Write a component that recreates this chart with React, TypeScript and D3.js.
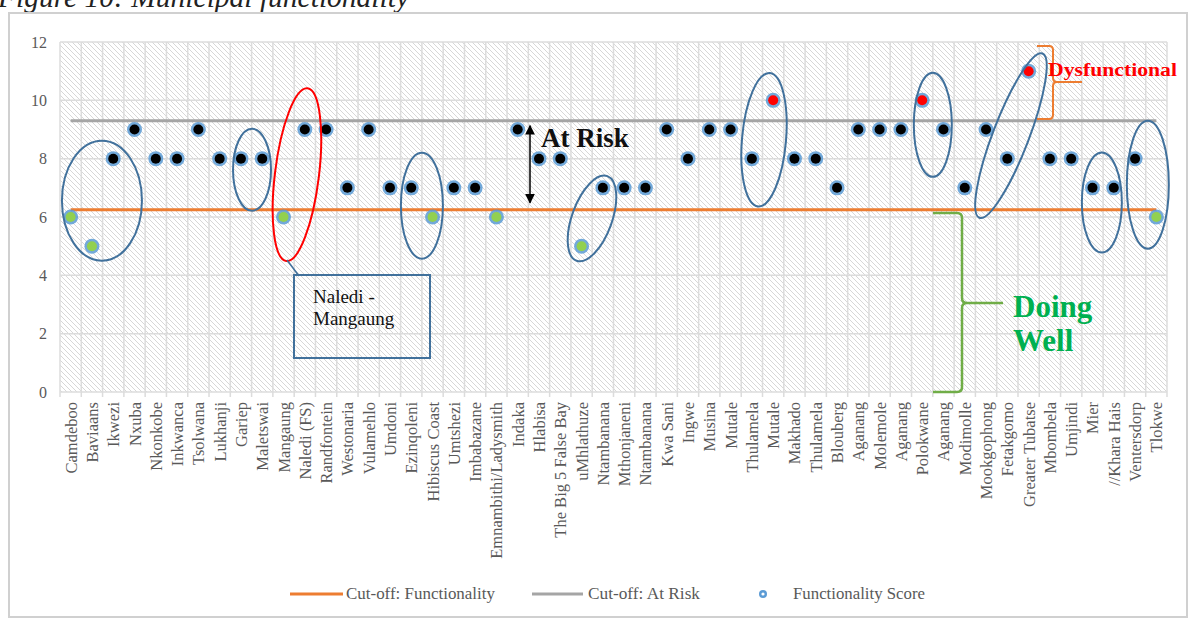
import React from "react";
import * as d3 from "d3";

const categories = [
  "Camdeboo","Baviaans","Ikwezi","Nxuba","Nkonkobe","Inkwanca","Tsolwana","Lukhanji","Gariep","Maletswai",
  "Mangaung","Naledi (FS)","Randfontein","Westonaria","Vulamehlo","Umdoni","Ezinqoleni","Hibiscus Coast","Umtshezi","Imbabazane",
  "Emnambithi/Ladysmith","Indaka","Hlabisa","The Big 5 False Bay","uMhlathuze","Ntambanana","Mthonjaneni","Ntambanana","Kwa Sani","Ingwe",
  "Musina","Mutale","Thulamela","Mutale","Makhado","Thulamela","Blouberg","Aganang","Molemole","Aganang",
  "Polokwane","Aganang","Modimolle","Mookgophong","Fetakgomo","Greater Tubatse","Mbombela","Umjindi","Mier","//Khara Hais",
  "Ventersdorp","Tlokwe"
];

const scores = [
  6,5,8,9,8,8,9,8,8,8,
  6,9,9,7,9,7,7,6,7,7,
  6,9,8,8,5,7,7,7,9,8,
  9,9,8,10,8,8,7,9,9,9,
  10,9,7,9,8,11,8,8,7,7,
  8,6
];

const cutoffFunctionality = 6.25;
const cutoffAtRisk = 9.3;
const yTicks = [0, 2, 4, 6, 8, 10, 12];
const legendLabels = ["Cut-off: Functionality", "Cut-off: At Risk", "Functionality Score"];

// annotation ellipses: category index (fractional), value, radii px, rotation deg, colour
const ellipses = [
  { i: 1.47, v: 6.56, rx: 40, ry: 60, rot: 0, c: "#41719c" },
  { i: 8.52, v: 7.62, rx: 19, ry: 41, rot: 0, c: "#41719c" },
  { i: 10.63, v: 7.45, rx: 22, ry: 87, rot: 7, c: "#ff0000" },
  { i: 16.5, v: 6.39, rx: 21, ry: 53, rot: 0, c: "#41719c" },
  { i: 24.49, v: 5.95, rx: 20, ry: 45, rot: 20, c: "#41719c" },
  { i: 32.57, v: 8.65, rx: 22, ry: 67, rot: 5, c: "#41719c" },
  { i: 40.5, v: 9.16, rx: 19, ry: 52, rot: 0, c: "#41719c" },
  { i: 44.17, v: 8.79, rx: 18, ry: 88, rot: 21, c: "#41719c" },
  { i: 48.44, v: 6.5, rx: 20, ry: 50, rot: 0, c: "#41719c" },
  { i: 50.6, v: 7.11, rx: 21, ry: 64, rot: 0, c: "#41719c" },
];

const W = 1189, H = 619;
const M = { left: 60, right: 1167, top: 42, bottom: 392 };

export default function App() {
  const idx = categories.map((_, i) => i);
  const x = d3.scaleBand<number>().domain(idx).range([M.left, M.right]).padding(0);
  const y = d3.scaleLinear().domain([0, 12]).range([M.bottom, M.top]);
  const bw = x.bandwidth();
  const cx = (i: number) => M.left + (i + 0.5) * bw;
  const first = cx(0), last = cx(categories.length - 1);
  const serif = "'Liberation Serif', 'Times New Roman', serif";
  const grid = "#dcdcdc";
  const txt = "#595959";

  const dotColor = (v: number) => (v < cutoffFunctionality ? "#92d050" : v > cutoffAtRisk ? "#ff0000" : "#000000");

  const boundaries = d3.range(categories.length + 1).map((k) => M.left + k * bw);
  const ly = 594;

  return (
    <svg width={W} height={H} style={{ position: "absolute", left: 0, top: 0, background: "#fff" }} fontFamily={serif}>
      <defs>
        <pattern id="hatch" patternUnits="userSpaceOnUse" width="5" height="5">
          <path d="M-1,-1 L6,6 M-1,4 L1,6 M4,-1 L6,1" stroke="#cdcdcd" strokeWidth="0.8" />
        </pattern>
        <marker id="ah" viewBox="0 0 10 10" refX="9" refY="5" markerWidth="6.5" markerHeight="6.5" orient="auto-start-reverse">
          <path d="M0,0 L10,5 L0,10 z" fill="#000" />
        </marker>
      </defs>

      <text x={-2} y={7} fontSize={29.5} fontStyle="italic" fill="#222">Figure 10: Municipal functionality</text>

      <rect x={9} y={13} width={1178} height={604} fill="#fff" stroke="#d0d0d0" strokeWidth={2} />

      {/* plot background */}
      <rect x={M.left} y={M.top} width={M.right - M.left} height={M.bottom - M.top} fill="url(#hatch)" />

      {/* gridlines */}
      {yTicks.map((t) => (
        <line key={"h" + t} x1={M.left} x2={M.right} y1={y(t)} y2={y(t)} stroke={grid} strokeWidth={1.5} />
      ))}
      {boundaries.map((b, k) => (
        <line key={"v" + k} x1={b} x2={b} y1={M.top} y2={M.bottom + 5} stroke={grid} strokeWidth={1.5} />
      ))}

      {/* y labels */}
      {yTicks.map((t) => (
        <text key={"yl" + t} x={47} y={y(t) + 5.5} textAnchor="end" fontSize={16} fill={txt}>{t}</text>
      ))}

      {/* x labels */}
      {categories.map((c, i) => (
        <text key={"xl" + i} transform={`translate(${cx(i) + 6},${M.bottom + 10}) rotate(-90)`} textAnchor="end" fontSize={16.5} fill={txt}>
          {c}
        </text>
      ))}

      {/* cut-off lines */}
      <line x1={first} x2={last} y1={y(cutoffAtRisk)} y2={y(cutoffAtRisk)} stroke="#a5a5a5" strokeWidth={3} />
      <line x1={first} x2={last} y1={y(cutoffFunctionality)} y2={y(cutoffFunctionality)} stroke="#ed7d31" strokeWidth={3} />

      {/* points */}
      {scores.map((v, i) => (
        <g key={"p" + i}>
          <circle cx={cx(i)} cy={y(v)} r={7.5} fill="#5b9bd5" opacity={0.85} />
          <circle cx={cx(i)} cy={y(v)} r={5} fill={dotColor(v)} />
        </g>
      ))}

      {/* ellipses */}
      {ellipses.map((e, k) => (
        <ellipse key={"e" + k} cx={cx(e.i)} cy={y(e.v)} rx={e.rx} ry={e.ry}
          transform={`rotate(${e.rot},${cx(e.i)},${y(e.v)})`} fill="none" stroke={e.c} strokeWidth={2} />
      ))}

      {/* Naledi - Mangaung callout */}
      <line x1={287} y1={260} x2={299} y2={276} stroke="#41719c" strokeWidth={1.5} />
      <rect x={294} y={275} width={136} height={83} fill="none" stroke="#41719c" strokeWidth={2} />
      <text x={313} y={303} fontSize={19} fill="#111">Naledi -</text>
      <text x={313} y={325} fontSize={19} fill="#111">Mangaung</text>

      {/* At Risk arrow */}
      <line x1={530} x2={530} y1={y(cutoffAtRisk) + 5} y2={y(cutoffFunctionality) - 7} stroke="#000" strokeWidth={1.5}
        markerStart="url(#ah)" markerEnd="url(#ah)" />
      <text x={541} y={147} fontSize={27} fontWeight="bold" fill="#111">At Risk</text>

      {/* Dysfunctional brace */}
      <path d="M1037,46 L1049,46 Q1053,46 1053,50 L1053,78 Q1053,82 1057,82 L1082,82 M1057,82 Q1053,82 1053,86 L1053,115 Q1053,119 1049,119 L1037,119" fill="none" stroke="#ed7d31" strokeWidth={2} />
      <text x={1048} y={76} fontSize={18} fontWeight="bold" fill="#ff0000" textLength={129} lengthAdjust="spacingAndGlyphs">Dysfunctional</text>

      {/* Doing Well brace */}
      <path d="M933,213 L957,213 Q962,213 962,218 L962,298 Q962,303 967,303 L1003,303 M967,303 Q962,303 962,308 L962,387 Q962,392 957,392 L933,392" fill="none" stroke="#70ad47" strokeWidth={2.5} />
      <text x={1013} y={317} fontSize={31} fontWeight="bold" fill="#00b050">Doing</text>
      <text x={1013} y={351} fontSize={31} fontWeight="bold" fill="#00b050">Well</text>

      {/* legend */}
      <line x1={290} x2={343} y1={ly} y2={ly} stroke="#ed7d31" strokeWidth={3} />
      <text x={346} y={ly + 5} fontSize={17.5} fill={txt} textLength={149} lengthAdjust="spacingAndGlyphs">{legendLabels[0]}</text>
      <line x1={532} x2={583} y1={ly} y2={ly} stroke="#a5a5a5" strokeWidth={3} />
      <text x={588} y={ly + 5} fontSize={17.5} fill={txt} textLength={112} lengthAdjust="spacingAndGlyphs">{legendLabels[1]}</text>
      <circle cx={763} cy={ly} r={4} fill="#5b9bd5" />
      <circle cx={763} cy={ly} r={1.6} fill="#fff" />
      <text x={793} y={ly + 5} fontSize={17.5} fill={txt} textLength={132} lengthAdjust="spacingAndGlyphs">{legendLabels[2]}</text>
    </svg>
  );
}
